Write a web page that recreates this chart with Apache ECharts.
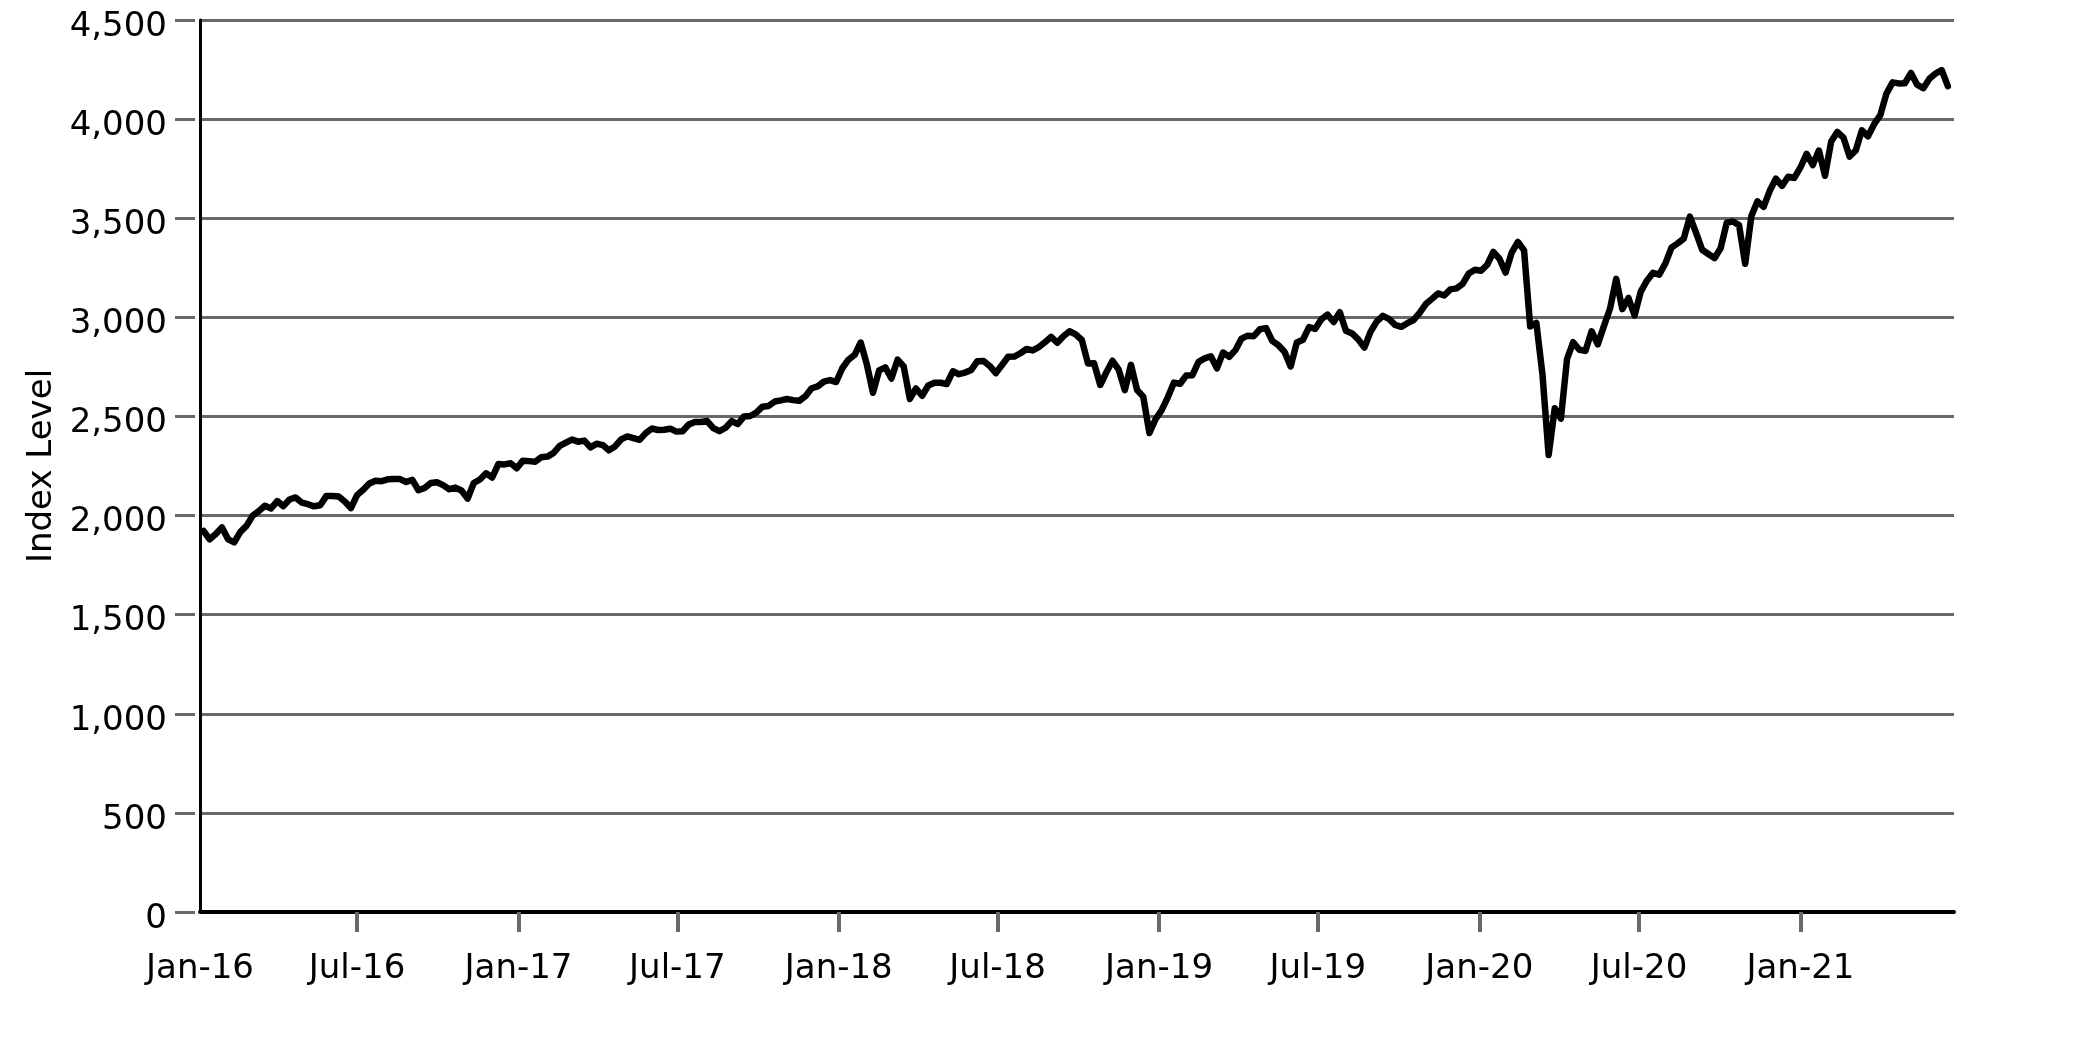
<!DOCTYPE html>
<html><head><meta charset="utf-8">
<script src="https://cdn.jsdelivr.net/npm/echarts@6/dist/echarts.min.js"></script>
<style>html,body{margin:0;padding:0;background:#fff}#c{width:2083px;height:1042px}</style>
</head><body><div id="c"></div>
<script>
// Weekly index level (week ending Friday), first week ends 2016-01-08
const firstWeekEnd = [2016, 0, 8];
const level2016 = [1922.03,1880.33,1906.90,1940.24,1880.05,1864.78,1917.78,1948.05,1999.99,2022.19,2049.58,2035.94,2072.78,2047.60,2080.73,2091.58,2065.30,2057.14,2046.61,2052.32,2099.06,2099.13,2096.07,2071.22,2037.41,2102.95,2129.90,2161.74,2175.03,2173.60,2182.87,2184.05,2183.87,2169.04,2179.98,2127.81,2139.16,2164.69,2168.27,2153.74,2132.98,2141.16,2126.41,2085.18,2164.45,2181.90,2213.35,2191.95,2259.53,2258.07,2263.79,2238.83];
const level2017 = [2276.98,2274.64,2271.31,2294.69,2297.42,2316.10,2351.16,2367.34,2383.12,2372.60,2378.25,2343.98,2362.72,2355.54,2328.95,2348.69,2384.20,2399.29,2390.90,2381.73,2415.82,2439.07,2431.77,2433.15,2438.30,2423.41,2425.18,2459.27,2472.54,2472.10,2476.83,2441.32,2425.55,2443.05,2476.55,2461.43,2500.23,2502.22,2519.36,2549.33,2553.17,2575.21,2581.07,2587.84,2582.30,2578.85,2602.42,2642.22,2651.50,2675.81,2683.34,2673.61];
const level2018 = [2743.15,2786.24,2810.30,2872.87,2762.13,2619.55,2732.22,2747.30,2691.25,2786.57,2752.01,2588.26,2640.87,2604.47,2656.30,2670.14,2669.91,2663.42,2727.72,2712.97,2721.33,2734.62,2779.03,2779.66,2754.88,2718.37,2759.82,2801.31,2801.83,2818.82,2840.35,2833.28,2850.13,2874.69,2901.52,2871.68,2904.98,2929.67,2913.98,2885.57,2767.13,2767.78,2658.69,2723.06,2781.01,2736.27,2632.56,2760.17,2633.08,2599.95,2416.62,2485.74];
const level2019 = [2531.94,2596.26,2670.71,2664.76,2706.53,2707.88,2775.60,2792.67,2803.69,2743.07,2822.48,2800.71,2834.40,2892.74,2907.41,2905.03,2939.88,2945.64,2881.40,2859.53,2826.06,2752.06,2873.34,2886.98,2950.46,2941.76,2990.41,3013.77,2976.61,3025.86,2932.05,2918.65,2888.68,2847.11,2926.46,2978.71,3007.39,2992.07,2961.79,2952.01,2970.27,2986.20,3022.55,3066.91,3093.08,3120.46,3110.29,3140.98,3145.91,3168.80,3221.22,3240.02];
const level2020 = [3234.85,3265.35,3329.62,3295.47,3225.52,3327.71,3380.16,3337.75,2954.22,2972.37,2711.02,2304.92,2541.47,2488.65,2789.82,2874.56,2836.74,2830.71,2929.80,2863.70,2955.45,3044.31,3193.93,3041.31,3097.74,3009.05,3130.01,3185.04,3224.73,3215.63,3271.12,3351.28,3372.85,3397.16,3508.01,3426.96,3340.97,3319.47,3298.46,3348.44,3477.13,3483.81,3465.39,3269.96,3509.44,3585.15,3557.54,3638.35,3699.12,3663.46,3709.41,3703.06,3756.07];
const level2021 = [3824.68,3768.25,3841.47,3714.24,3886.83,3934.83,3906.71,3811.15,3841.94,3943.34,3913.10,3974.54,4019.87,4128.80,4185.47,4180.17,4181.17,4232.60,4173.85,4155.86,4204.11,4229.89,4247.44,4166.45];

const xAxisStart = '2016-01-04';
const xAxisEnd = '2021-06-25';
const xTickDates = ['2016-07-01','2017-01-01','2017-07-01','2018-01-01','2018-07-01','2019-01-01','2019-07-01','2020-01-01','2020-07-01','2021-01-01'];
const xLabelDates = [xAxisStart].concat(xTickDates);
const monthNames = ['Jan','Feb','Mar','Apr','May','Jun','Jul','Aug','Sep','Oct','Nov','Dec'];
const yTickValues = [0,500,1000,1500,2000,2500,3000,3500,4000,4500];
const yAxisName = 'Index Level';

const DAY = 86400000;
const toTs = s => { const p = s.split('-').map(Number); return Date.UTC(p[0], p[1]-1, p[2]); };
const levels = [].concat(level2016, level2017, level2018, level2019, level2020, level2021);
const t0 = Date.UTC(firstWeekEnd[0], firstWeekEnd[1], firstWeekEnd[2]);
const seriesData = levels.map((v, i) => [t0 + i * 7 * DAY, v]);

const fmtDate = v => { const d = new Date(v); return monthNames[d.getUTCMonth()] + '-' + String(d.getUTCFullYear()).slice(2); };
const FONT = 'DejaVu Sans';
const GRAY = '#686868';
const FS = 34;

const chart = echarts.init(document.getElementById('c'), null, {renderer: 'canvas'});
const xMin = toTs(xAxisStart), xMax = toTs(xAxisEnd);
const yStep = yTickValues[1] - yTickValues[0];
chart.setOption({
  animation: false,
  backgroundColor: '#ffffff',
  textStyle: {fontFamily: FONT},
  grid: {left: 200, right: 129, top: 20, bottom: 130, containLabel: false},
  xAxis: [{
    type: 'value', min: xMin, max: xMax, position: 'bottom', offset: 5, scale: true,
    axisLine: {show: false},
    axisTick: {show: true, length: 20, lineStyle: {color: GRAY, width: 4}, customValues: xTickDates.map(toTs)},
    axisLabel: {show: true, margin: 35, color: '#000', fontSize: FS, fontFamily: FONT, customValues: xLabelDates.map(toTs), formatter: fmtDate, hideOverlap: false},
    splitLine: {show: false}
  }, {
    type: 'value', min: xMin, max: xMax, position: 'bottom', offset: 0, scale: true,
    axisLine: {show: true, lineStyle: {color: '#000', width: 4}},
    axisTick: {show: false}, axisLabel: {show: false}, splitLine: {show: false}
  }],
  yAxis: [{
    type: 'value', min: yTickValues[0], max: yTickValues[yTickValues.length-1], interval: yStep,
    position: 'left', offset: 5,
    name: yAxisName, nameLocation: 'middle', nameRotate: 90, nameGap: 110,
    nameTextStyle: {color: '#000', fontSize: 34, fontFamily: FONT},
    axisLine: {show: false},
    axisTick: {show: true, length: 20, lineStyle: {color: GRAY, width: 3}},
    axisLabel: {margin: 28, color: '#000', fontSize: FS, fontFamily: FONT, verticalAlign: 'top', lineHeight: 14, formatter: v => v.toLocaleString('en-US')},
    splitLine: {show: true, lineStyle: {color: GRAY, width: 3}}
  }, {
    type: 'value', min: yTickValues[0], max: yTickValues[yTickValues.length-1], interval: yStep,
    position: 'left', offset: 0,
    axisLine: {show: true, lineStyle: {color: '#000', width: 3}},
    axisTick: {show: false}, axisLabel: {show: false}, splitLine: {show: false}
  }],
  series: [{
    type: 'line', xAxisIndex: 0, yAxisIndex: 0, data: seriesData,
    showSymbol: false, symbol: 'none',
    lineStyle: {color: '#000', width: 6.5, join: 'round', cap: 'round'},
    z: 5
  }]
});
</script></body></html>
